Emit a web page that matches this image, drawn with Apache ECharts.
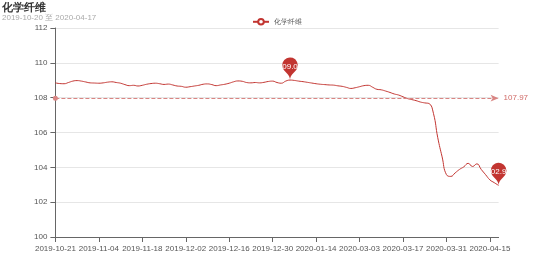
<!DOCTYPE html>
<html>
<head>
<meta charset="utf-8">
<script src="https://cdn.jsdelivr.net/npm/echarts@6/dist/echarts.min.js"></script>
<style>html,body{margin:0;padding:0;background:#fff;}#c{width:554px;height:265px;}</style>
</head>
<body>
<div id="c"></div>
<script>
var titleText = '化学纤维';
var subText = '2019-10-20 至 2020-04-17';
var seriesName = '化学纤维';
var dates = [
'2019-10-21','2019-10-22','2019-10-23','2019-10-24','2019-10-25','2019-10-28','2019-10-29','2019-10-30','2019-10-31','2019-11-01',
'2019-11-04','2019-11-05','2019-11-06','2019-11-07','2019-11-08','2019-11-11','2019-11-12','2019-11-13','2019-11-14','2019-11-15',
'2019-11-18','2019-11-19','2019-11-20','2019-11-21','2019-11-22','2019-11-25','2019-11-26','2019-11-27','2019-11-28','2019-11-29',
'2019-12-02','2019-12-03','2019-12-04','2019-12-05','2019-12-06','2019-12-09','2019-12-10','2019-12-11','2019-12-12','2019-12-13',
'2019-12-16','2019-12-17','2019-12-18','2019-12-19','2019-12-20','2019-12-23','2019-12-24','2019-12-25','2019-12-26','2019-12-27',
'2019-12-30','2019-12-31','2020-01-02','2020-01-03','2020-01-06','2020-01-07','2020-01-08','2020-01-09','2020-01-10','2020-01-13',
'2020-01-14','2020-01-15','2020-01-16','2020-01-17','2020-01-20','2020-01-21','2020-01-22','2020-01-23','2020-02-28','2020-03-02',
'2020-03-03','2020-03-04','2020-03-05','2020-03-06','2020-03-09','2020-03-10','2020-03-11','2020-03-12','2020-03-13','2020-03-16',
'2020-03-17','2020-03-18','2020-03-19','2020-03-20','2020-03-23','2020-03-24','2020-03-25','2020-03-26','2020-03-27','2020-03-30',
'2020-03-31','2020-04-01','2020-04-02','2020-04-03','2020-04-07','2020-04-08','2020-04-09','2020-04-10','2020-04-13','2020-04-14',
'2020-04-15','2020-04-16','2020-04-17'
];
var values = [
108.85,108.81,108.80,108.87,108.95,108.98,108.95,108.90,108.85,108.84,
108.83,108.85,108.89,108.91,108.87,108.83,108.75,108.69,108.71,108.67,
108.71,108.77,108.81,108.83,108.80,108.76,108.78,108.73,108.67,108.65,
108.60,108.63,108.67,108.71,108.77,108.79,108.75,108.69,108.73,108.77,
108.83,108.91,108.96,108.94,108.87,108.85,108.87,108.85,108.88,108.93,
108.95,108.87,108.83,108.95,109.01,108.99,108.95,108.92,108.88,108.84,
108.80,108.77,108.75,108.73,108.72,108.68,108.65,108.59,108.53,108.57,
108.63,108.69,108.71,108.60,108.48,108.45,108.38,108.30,108.21,108.15,
108.05,107.95,107.89,107.83,107.75,107.70,107.66,107.10,105.70,104.60,
103.58,103.48,103.68,103.88,104.03,104.23,104.05,104.20,103.88,103.58,
103.28,103.12,102.96
];
var yMin = 100, yMax = 112, yStep = 2;
var mainColor = '#c23531';

var chart = echarts.init(document.getElementById('c'));
chart.setOption({
  animation: false,
  color: [mainColor],
  title: {
    text: titleText,
    subtext: subText,
    left: 0, top: 0,
    padding: [2, 2],
    itemGap: 1,
    textStyle: { fontSize: 11, fontWeight: 'bold', color: '#333' },
    subtextStyle: { fontSize: 8, color: '#aaa' }
  },
  legend: {
    data: [seriesName],
    top: 13,
    left: 'center',
    itemWidth: 16, itemHeight: 7,
    textStyle: { fontSize: 7, color: '#555' }
  },
  grid: { left: '10%', right: '10%', top: 28, bottom: 28 },
  xAxis: {
    type: 'category',
    data: dates,
    boundaryGap: false,
    axisLine: { lineStyle: { color: '#666' } },
    axisTick: { interval: 9, lineStyle: { color: '#666' } },
    axisLabel: { interval: 9, fontSize: 8, color: '#555' }
  },
  yAxis: {
    type: 'value',
    min: yMin, max: yMax, interval: yStep,
    axisLine: { show: true, lineStyle: { color: '#666' } },
    axisTick: { show: true, lineStyle: { color: '#666' } },
    axisLabel: { fontSize: 8, color: '#555' },
    splitLine: { lineStyle: { color: '#e6e6e6' } }
  },
  series: [{
    name: seriesName,
    type: 'line',
    data: values,
    smooth: true,
    symbol: 'emptyCircle',
    showSymbol: false,
    lineStyle: { width: 1 },
    markPoint: {
      symbolSize: 26,
      itemStyle: { color: mainColor },
      label: { fontSize: 8, color: '#fff' },
      data: [{ type: 'max', name: '最大值' }, { type: 'min', name: '最小值' }]
    },
    markLine: {
      symbol: ['circle', 'arrow'],
      symbolSize: [5, 8],
      precision: 2,
      label: { fontSize: 8, color: '#d06a67' },
      itemStyle: { color: mainColor },
      lineStyle: { type: 'dashed', width: 1, color: '#d98583' },
      data: [{ type: 'average', name: '平均值' }]
    }
  }]
});
</script>
</body>
</html>
